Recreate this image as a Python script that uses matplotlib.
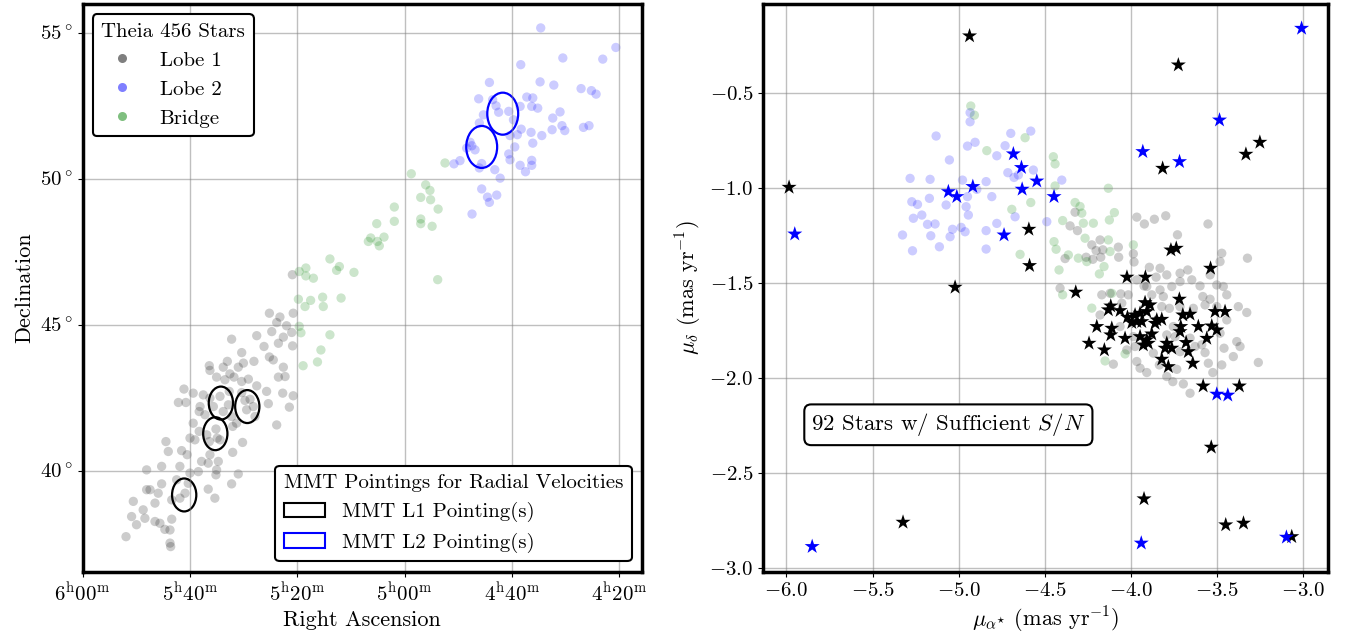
import numpy as np
import matplotlib
matplotlib.use('Agg')
import matplotlib.pyplot as plt
from matplotlib.patches import Ellipse, Patch
from matplotlib.lines import Line2D

plt.rcParams['font.family'] = ['cmr10', 'DejaVu Serif']
plt.rcParams['mathtext.fontset'] = 'cm'
plt.rcParams['axes.formatter.use_mathtext'] = True
plt.rcParams['font.size'] = 15

# ---- sky positions (RA deg, Dec deg) ----
lobe1_sky = [
    (81.30, 45.40), (80.81, 45.27), (80.19, 45.40), (80.96, 45.08), (80.50, 44.97), (80.26, 44.74),
    (81.19, 44.77), (80.65, 44.58), (81.89, 44.63), (81.55, 44.26), (80.88, 44.37), (80.22, 44.28),
    (83.06, 44.51), (82.59, 44.05), (82.02, 43.75), (81.12, 43.80), (81.30, 43.90), (80.65, 43.55),
    (80.88, 43.21), (80.57, 43.23), (84.10, 43.60), (83.26, 43.75), (84.07, 43.44), (83.45, 43.55),
    (83.14, 43.32), (82.75, 43.55), (82.51, 43.69), (83.76, 43.21), (83.37, 43.12), (82.95, 43.21),
    (82.59, 43.06), (82.28, 43.14), (81.89, 42.91), (81.43, 42.72), (80.68, 42.66), (80.19, 42.57),
    (81.35, 42.30), (80.37, 42.18), (80.96, 41.57), (85.28, 42.80), (84.85, 42.66), (85.54, 42.34),
    (85.19, 42.34), (84.38, 42.60), (84.53, 42.20), (84.07, 42.49), (83.60, 42.55), (83.17, 42.72),
    (82.59, 42.68), (82.20, 42.45), (82.05, 42.20), (82.44, 42.41), (82.36, 42.09), (81.97, 41.86),
    (84.57, 42.03), (84.30, 41.92), (83.91, 42.20), (83.45, 42.03), (83.21, 42.26), (83.06, 41.86),
    (82.83, 41.63), (84.85, 41.63), (84.57, 41.35), (84.22, 41.23), (83.79, 41.43), (83.73, 41.12),
    (84.10, 41.00), (83.60, 41.06), (83.01, 41.52), (82.55, 40.97), (86.12, 41.00), (86.01, 40.66),
    (85.39, 40.69), (85.00, 41.12), (84.77, 41.06), (85.13, 40.55), (84.46, 40.32), (84.15, 40.26),
    (83.68, 40.32), (83.76, 40.03), (83.01, 40.63), (87.02, 40.03), (86.32, 40.15), (85.47, 40.15),
    (85.00, 39.92), (84.61, 39.97), (83.79, 39.86), (82.75, 39.89), (84.07, 40.55), (87.02, 39.35),
    (86.86, 39.35), (86.32, 39.55), (86.48, 39.23), (85.62, 39.69), (85.08, 39.57), (85.23, 39.23),
    (85.47, 39.06), (87.64, 38.95), (87.18, 38.66), (86.63, 38.89), (85.85, 39.00), (84.15, 39.37),
    (83.84, 39.06), (83.06, 39.55), (87.72, 38.43), (87.10, 38.37), (86.63, 38.26), (86.40, 38.20),
    (86.17, 37.99), (85.85, 38.34), (87.49, 38.15), (85.93, 37.97), (87.98, 37.74), (85.93, 37.52),
    (85.90, 37.40), (80.23, 46.72),
]
lobe2_sky = [
    (68.66, 55.18), (65.16, 54.51), (67.63, 54.15), (65.77, 54.11), (69.59, 53.92), (71.05, 53.31),
    (68.69, 53.33), (68.05, 53.22), (66.78, 53.10), (66.30, 53.03), (66.08, 52.91), (71.55, 52.75),
    (69.31, 52.81), (69.03, 52.78), (70.90, 52.72), (70.74, 52.51), (70.62, 52.29), (70.15, 52.32),
    (69.62, 52.49), (69.08, 52.49), (68.80, 52.43), (67.76, 52.30), (68.10, 52.09), (71.33, 52.20),
    (69.93, 52.03), (71.52, 51.92), (69.57, 51.71), (70.09, 51.49), (69.75, 51.52), (69.11, 51.60),
    (68.61, 51.49), (68.13, 51.69), (67.67, 51.83), (67.54, 51.66), (66.67, 51.77), (66.41, 51.83),
    (71.95, 51.26), (71.87, 51.14), (72.11, 51.06), (71.72, 51.00), (69.03, 51.23), (69.87, 51.10),
    (70.15, 50.86), (70.09, 50.66), (69.08, 50.64), (69.08, 50.47), (69.62, 50.47), (72.70, 50.52),
    (72.42, 50.63), (71.41, 50.53), (71.52, 50.38), (70.80, 50.32), (70.55, 50.03), (69.37, 50.25),
    (71.41, 49.66), (71.14, 49.38), (70.71, 49.45), (71.05, 49.20), (71.86, 48.80),
]
bridge_sky = [
    (79.91, 46.83), (79.60, 46.95), (79.60, 46.68), (79.25, 46.60), (78.48, 47.26), (78.04, 47.00),
    (78.17, 46.87), (77.36, 46.80), (79.95, 45.88), (79.38, 45.84), (79.64, 45.63), (78.82, 45.95),
    (78.79, 45.63), (77.96, 45.92), (79.91, 44.95), (76.69, 47.86), (76.58, 47.98), (76.27, 47.86),
    (76.18, 47.71), (75.96, 48.01), (76.30, 48.47), (75.48, 49.04), (75.48, 48.55), (74.69, 50.18),
    (74.02, 49.80), (73.82, 49.61), (74.25, 49.37), (73.79, 49.29), (73.44, 48.97), (74.25, 48.63),
    (74.25, 48.47), (73.72, 48.38), (73.46, 46.55), (73.12, 50.55), (79.73, 43.60), (79.06, 43.73),
    (78.90, 44.14), (78.48, 44.66), (79.83, 44.73),
]

# MMT pointings (RA, Dec) and field size
mmt_l1 = [(83.56, 42.32), (82.33, 42.20), (83.82, 41.27), (85.27, 39.17)]
mmt_l2 = [(70.43, 52.24), (71.41, 51.10)]
mmt_l1_size = 1.13
mmt_l2_size = 1.44

ra_ticks = [90, 85, 80, 75, 70, 65]
ra_labels = [r'$6^{\rm h}00^{\rm m}$', r'$5^{\rm h}40^{\rm m}$', r'$5^{\rm h}20^{\rm m}$',
             r'$5^{\rm h}00^{\rm m}$', r'$4^{\rm h}40^{\rm m}$', r'$4^{\rm h}20^{\rm m}$']
dec_ticks = [40, 45, 50, 55]

# ---- proper motions (pmra, pmdec) ----
lobe1_pm = [
    (-3.967, -1.152), (-3.923, -1.188), (-3.865, -1.163), (-3.799, -1.145), (-3.554, -1.188),
    (-3.731, -1.245), (-4.180, -1.272), (-4.228, -1.298), (-4.203, -1.328), (-4.164, -1.324),
    (-4.074, -1.310), (-4.261, -1.363), (-4.222, -1.374), (-4.176, -1.363), (-4.072, -1.363),
    (-3.987, -1.345), (-3.983, -1.388), (-4.383, -1.370), (-4.412, -1.526), (-4.354, -1.198),
    (-4.311, -1.223), (-4.325, -1.126), (-3.894, -1.416), (-3.855, -1.468), (-3.793, -1.456),
    (-3.716, -1.447), (-3.671, -1.430), (-3.832, -1.421), (-3.967, -1.482), (-3.909, -1.517),
    (-3.832, -1.535), (-3.764, -1.517), (-3.716, -1.491), (-3.648, -1.482), (-3.600, -1.514),
    (-3.542, -1.456), (-3.503, -1.509), (-3.474, -1.342), (-3.484, -1.386), (-3.325, -1.368),
    (-3.584, -1.570), (-3.542, -1.584), (-3.445, -1.561), (-3.378, -1.623), (-3.329, -1.654),
    (-3.445, -1.693), (-3.484, -1.763), (-3.387, -1.807), (-3.461, -1.842), (-3.368, -1.833),
    (-3.262, -1.917), (-3.407, -1.886), (-3.474, -1.930), (-3.526, -1.970), (-3.552, -1.921),
    (-3.590, -1.824), (-3.571, -1.865), (-3.658, -1.789), (-3.629, -1.833), (-3.716, -1.860),
    (-3.793, -1.772), (-3.745, -1.781), (-3.755, -1.728), (-4.170, -1.561), (-4.122, -1.553),
    (-4.060, -1.556), (-4.016, -1.561), (-4.054, -1.605), (-4.180, -1.667), (-4.064, -1.728),
    (-3.987, -1.781), (-3.977, -1.833), (-4.025, -1.851), (-4.103, -1.926), (-3.967, -1.912),
    (-3.948, -1.947), (-3.909, -1.970), (-3.871, -1.868), (-3.836, -1.930), (-3.793, -1.991),
    (-3.758, -2.018), (-3.735, -1.953), (-3.697, -2.030), (-3.658, -2.079), (-3.822, -1.623),
    (-3.880, -1.561), (-3.925, -1.514), (-3.813, -1.570), (-3.778, -1.632), (-3.716, -1.623),
    (-3.639, -1.632), (-3.571, -1.614), (-3.503, -1.623), (-3.465, -1.517),
]
lobe2_pm = [
    (-4.934, -0.602), (-4.934, -0.650), (-5.131, -0.725), (-4.905, -0.758), (-4.949, -0.778),
    (-4.698, -0.711), (-4.582, -0.699), (-4.731, -0.776), (-4.779, -0.829), (-5.054, -0.851),
    (-5.282, -0.948), (-5.166, -0.953), (-4.978, -0.957), (-4.841, -0.965), (-4.715, -0.918),
    (-4.679, -0.943), (-4.567, -0.904), (-4.402, -0.957), (-4.654, -0.930), (-4.895, -1.006),
    (-4.808, -1.044), (-5.272, -1.071), (-5.239, -1.085), (-5.170, -1.053), (-5.073, -1.088),
    (-4.949, -1.044), (-4.957, -1.097), (-4.944, -1.141), (-5.214, -1.141), (-5.263, -1.158),
    (-5.181, -1.190), (-5.137, -1.188), (-5.036, -1.216), (-4.986, -1.206), (-4.963, -1.229),
    (-5.050, -1.255), (-5.162, -1.250), (-5.326, -1.246), (-5.112, -1.308), (-5.268, -1.329),
    (-4.841, -1.223), (-4.779, -1.185), (-4.673, -1.150), (-4.841, -1.320), (-4.489, -1.176),
]
bridge_pm = [
    (-4.132, -1.000), (-4.582, -1.075), (-4.441, -0.988), (-4.325, -1.075), (-4.296, -1.096),
    (-4.286, -1.131), (-4.397, -1.170), (-4.277, -1.184), (-4.219, -1.184), (-4.267, -1.263),
    (-4.126, -1.167), (-4.097, -1.128), (-4.132, -1.272), (-4.122, -1.333), (-4.447, -1.281),
    (-4.435, -1.321), (-4.364, -1.351), (-4.306, -1.368), (-4.257, -1.386), (-4.184, -1.451),
    (-4.157, -1.412), (-4.418, -1.430), (-4.397, -1.561), (-4.228, -1.631), (-3.987, -1.298),
    (-4.035, -1.872), (-4.151, -1.909), (-4.112, -1.553), (-4.930, -0.567), (-4.909, -0.615),
    (-4.837, -0.802), (-4.615, -0.734), (-4.451, -0.834), (-4.441, -0.872), (-4.692, -1.111),
    (-4.644, -1.348),
]
# stars with sufficient S/N
rv_l1_pm = [
    (-4.937, -0.198), (-5.984, -0.995), (-3.726, -0.351), (-3.817, -0.895), (-3.334, -0.821),
    (-3.253, -0.758), (-4.593, -1.216), (-4.589, -1.407), (-5.021, -1.521), (-4.321, -1.547),
    (-3.769, -1.325), (-3.738, -1.316), (-3.539, -1.421), (-4.024, -1.468), (-3.917, -1.468),
    (-5.323, -2.758), (-3.925, -2.635), (-3.535, -2.363), (-3.451, -2.772), (-3.348, -2.763),
    (-3.068, -2.834), (-3.582, -2.041), (-3.372, -2.041),
    (-4.118, -1.620), (-4.064, -1.644), (-4.132, -1.640), (-4.021, -1.679), (-3.977, -1.667),
    (-3.948, -1.658), (-3.919, -1.602), (-3.890, -1.614), (-3.909, -1.649), (-3.967, -1.702),
    (-3.996, -1.707), (-3.938, -1.702), (-3.851, -1.693), (-3.822, -1.690), (-3.861, -1.711),
    (-4.199, -1.728), (-4.112, -1.737), (-4.118, -1.772), (-4.035, -1.790), (-3.948, -1.781),
    (-3.909, -1.798), (-3.880, -1.767), (-3.929, -1.825), (-3.900, -1.816), (-3.793, -1.816),
    (-3.803, -1.842), (-3.764, -1.842), (-3.716, -1.755), (-3.712, -1.728), (-3.720, -1.584),
    (-3.700, -1.667), (-3.658, -1.663), (-3.681, -1.812), (-3.668, -1.860), (-3.610, -1.728),
    (-3.532, -1.725), (-3.503, -1.746), (-3.561, -1.790), (-3.513, -1.649), (-3.455, -1.649),
    (-4.244, -1.816), (-4.155, -1.851), (-3.822, -1.900), (-3.784, -1.939), (-3.642, -1.921),
]
rv_l2_pm = [
    (-3.011, -0.158), (-3.487, -0.641), (-3.932, -0.807), (-3.719, -0.860), (-5.951, -1.241),
    (-5.850, -2.886), (-3.941, -2.868), (-3.099, -2.837), (-3.503, -2.084), (-3.439, -2.089),
    (-4.683, -0.819), (-4.636, -0.891), (-4.547, -0.962), (-4.632, -1.005), (-4.918, -0.991),
    (-5.060, -1.018), (-5.011, -1.044), (-4.447, -1.044), (-4.737, -1.246),
]

l1 = np.array(lobe1_sky); l2 = np.array(lobe2_sky); br = np.array(bridge_sky)
p1 = np.array(lobe1_pm); p2 = np.array(lobe2_pm); pb = np.array(bridge_pm)
s1 = np.array(rv_l1_pm); s2 = np.array(rv_l2_pm)

fig = plt.figure(figsize=(13.46, 6.44), dpi=100)
ax1 = fig.add_axes([0.0614, 0.1123, 0.4156, 0.8815])
ax2 = fig.add_axes([0.5669, 0.1118, 0.4197, 0.882])

ms = 45
ax1.scatter(l1[:, 0], l1[:, 1], s=ms, c='k', alpha=0.2, edgecolors='none')
ax1.scatter(l2[:, 0], l2[:, 1], s=ms, c='b', alpha=0.2, edgecolors='none')
ax1.scatter(br[:, 0], br[:, 1], s=ms, c='g', alpha=0.2, edgecolors='none')

for ra, dec in mmt_l1:
    ax1.add_patch(Ellipse((ra, dec), mmt_l1_size, mmt_l1_size, fill=False, ec='k', lw=1.6))
for ra, dec in mmt_l2:
    ax1.add_patch(Ellipse((ra, dec), mmt_l2_size, mmt_l2_size, fill=False, ec='b', lw=1.6))

ax1.set_xlim(90, 63.94)
ax1.set_ylim(36.54, 56.0)
ax1.set_xticks(ra_ticks)
ax1.set_xticklabels(ra_labels)
ax1.set_yticks(dec_ticks)
ax1.set_yticklabels([r'$%d^\circ$' % d for d in dec_ticks])
ax1.set_xlabel('Right Ascension', fontsize=16)
ax1.set_ylabel('Declination', fontsize=16)
ax1.grid(True, color='gray', alpha=0.5, lw=1)

h1 = [Line2D([], [], ls='none', marker='o', ms=6.5, mec='none', mfc=c, alpha=0.5) for c in ['k', 'b', 'g']]
leg1 = ax1.legend(h1, ['Lobe 1', 'Lobe 2', 'Bridge'], title='Theia 456 Stars', loc='upper left',
                  fontsize=15, title_fontsize=15, edgecolor='k', framealpha=1, alignment='left')
leg1.get_frame().set_linewidth(1.5)
ax1.add_artist(leg1)
h2 = [Patch(fc='none', ec='k', lw=1.5), Patch(fc='none', ec='b', lw=1.5)]
leg2 = ax1.legend(h2, ['MMT L1 Pointing(s)', 'MMT L2 Pointing(s)'], title='MMT Pointings for Radial Velocities',
                  loc='lower right', fontsize=15, title_fontsize=15, edgecolor='k', framealpha=1,
                  alignment='left')
leg2.get_frame().set_linewidth(1.5)

ax2.scatter(p1[:, 0], p1[:, 1], s=ms, c='k', alpha=0.2, edgecolors='none')
ax2.scatter(p2[:, 0], p2[:, 1], s=ms, c='b', alpha=0.2, edgecolors='none')
ax2.scatter(pb[:, 0], pb[:, 1], s=ms, c='g', alpha=0.2, edgecolors='none')
ax2.scatter(s1[:, 0], s1[:, 1], s=130, c='k', marker='*', edgecolors='none', zorder=3)
ax2.scatter(s2[:, 0], s2[:, 1], s=130, c='b', marker='*', edgecolors='none', zorder=3)
ax2.set_xlim(-6.135, -2.858)
ax2.set_ylim(-3.02, -0.03)
ax2.set_xlabel(r'$\mu_{\alpha^{\star}}$ (mas yr$^{-1}$)', fontsize=16)
ax2.set_ylabel(r'$\mu_{\delta}$ (mas yr$^{-1}$)', fontsize=16)
ax2.grid(True, color='gray', alpha=0.5, lw=1)
ax2.text(-5.06, -2.245, r'92 Stars w/ Sufficient $S/N$', ha='center', va='center', fontsize=16.5,
         bbox=dict(boxstyle='round,pad=0.3', fc='white', ec='k', lw=1.5))

for ax in (ax1, ax2):
    for sp in ax.spines.values():
        sp.set_linewidth(2.5)
    ax.tick_params(labelsize=15)

fig.savefig('out.png', dpi=100)
